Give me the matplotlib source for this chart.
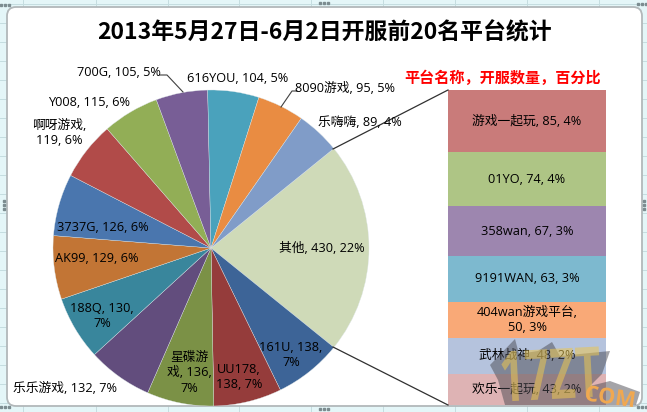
import matplotlib
matplotlib.use('Agg')
import matplotlib.pyplot as plt
from matplotlib.font_manager import FontProperties
from matplotlib.patches import FancyBboxPatch, PathPatch, Polygon, Rectangle
from matplotlib.textpath import TextPath
from matplotlib.transforms import Affine2D

plt.rcParams['font.family'] = ['Open Sans', 'Noto Sans CJK SC', 'DejaVu Sans']

W, H = 647, 412

# pie data, clockwise from the big slice
pie_labels = ['其他, 430, 22%', '161U, 138,\n7%', 'UU178,\n138, 7%', '星碟游\n戏, 136,\n7%',
              '乐乐游戏, 132, 7%', '188Q, 130,\n7%', 'AK99, 129, 6%', '3737G, 126, 6%',
              '啊呀游戏,\n119, 6%', 'Y008, 115, 6%', '700G, 105, 5%', '616YOU, 104, 5%',
              '8090游戏, 95, 5%', '乐嗨嗨, 89, 4%']
pie_values = [430, 138, 138, 136, 132, 130, 129, 126, 119, 115, 105, 104, 95, 89]
pie_colors = ['#CFDAB8', '#3D6497', '#953C3B', '#7B9146', '#624D7D', '#39869C', '#C27535',
              '#4A76AE', '#B14B49', '#92AE56', '#785E96', '#4AA2BC', '#E98C42', '#809CC8']
# label centres in pixels
pie_label_pos = [(322, 248), (291, 355), (239, 377), (189, 373), (65, 388), (102, 316), (97, 259),
                 (103, 227), (59, 133), (89, 102), (119, 72), (238, 78), (345, 88), (360, 122)]

# breakdown of 其他
bar_labels = ['游戏一起玩, 85, 4%', '01YO, 74, 4%', '358wan, 67, 3%', '9191WAN, 63, 3%',
              '404wan游戏平台,\n50, 3%', '武林战神, 48, 2%', '欢乐一起玩, 43, 2%']
bar_values = [85, 74, 67, 63, 50, 48, 43]
bar_colors = ['#C97B7A', '#AEC585', '#9D86AF', '#7DB9CF', '#F9A977', '#B5C3DD', '#DEB3B4']

LABEL_SIZE = 9.2
LINE_SPACING = 1.28


def px_axes(x0, y0, x1, y1, **kw):
    return fig.add_axes([x0 / W, 1 - y1 / H, (x1 - x0) / W, (y1 - y0) / H], **kw)


def stretched_text(axis, s, x0, y0, x1, y1, **kw):
    # text squeezed into a pixel box, the logo letters are tall and narrow
    tp = TextPath((0, 0), s, size=1, prop=FontProperties(family='Open Sans', weight='bold'))
    ext = tp.get_extents()
    tr = (Affine2D().translate(-ext.x0, -ext.y0)
          .scale((x1 - x0) / ext.width, -(y1 - y0) / ext.height)
          .translate(x0, y1).rotate_deg_around((x0 + x1) / 2, (y0 + y1) / 2, kw.pop('rot', 0)))
    axis.add_patch(PathPatch(tr.transform_path(tp), **kw))


fig = plt.figure(figsize=(W / 100, H / 100), dpi=100, facecolor='#E4F6F8')

# sheet behind the chart, in pixel coordinates
bg = px_axes(0, 0, W, H, zorder=0)
bg.set_xlim(0, W)
bg.set_ylim(H, 0)
bg.axis('off')
for x in [23, 96, 168, 239, 311, 383, 455, 527, 599]:
    bg.plot([x, x], [0, H], color='#C5DDE0', lw=0.7)
for y in range(4, H, 19):
    bg.plot([0, W], [y, y], color='#C5DDE0', lw=0.7)
bg.add_patch(FancyBboxPatch((15, 15), 619, 383, boxstyle='round,pad=8,rounding_size=9',
                            fc='white', ec='#B2B8BA', lw=1.3, zorder=3))
# resize handles
for cx, cy in [(5, 5), (324, 3), (642, 4), (4, 205), (644, 205), (5, 407), (324, 409), (642, 407)]:
    horiz = cy < 10 or cy > 400
    for i in (-1, 0, 1):
        dx, dy = (i * 4, 0) if horiz else (0, i * 4)
        bg.add_patch(Rectangle((cx + dx - 1, cy + dy - 1), 2, 2, color='#7C8C90', zorder=4))

# pie
ax = px_axes(53, 90, 369, 406, zorder=1)
ax.pie(pie_values, colors=pie_colors, startangle=39, counterclock=False, radius=1,
       wedgeprops={'edgecolor': '#DDE6E8', 'linewidth': 0.25}, frame=True)
ax.set_xlim(-1, 1)
ax.set_ylim(-1, 1)
ax.axis('off')

# breakdown column
ax2 = px_axes(448, 90, 606, 405, zorder=1)
bottom = 0
for lab, v, c in zip(bar_labels, bar_values, bar_colors):
    ax2.bar(0, v, bottom=bottom, width=1, color=c)
    ax2.text(0, bottom + v / 2, lab, ha='center', va='center', fontsize=LABEL_SIZE,
             linespacing=LINE_SPACING, color='black')
    bottom += v
ax2.set_xlim(-0.5, 0.5)
ax2.set_ylim(sum(bar_values), 0)
ax2.axis('off')

# everything on top, in pixel coordinates again
top = px_axes(0, 0, W, H, zorder=2)
top.set_xlim(0, W)
top.set_ylim(H, 0)
top.axis('off')
top.patch.set_alpha(0)

for lab, (x, y) in zip(pie_labels, pie_label_pos):
    top.text(x, y, lab, ha='center', va='center', fontsize=LABEL_SIZE,
             linespacing=LINE_SPACING, color='black')

top.plot([160, 167, 183], [75, 75, 92], color='#404040', lw=0.8)
top.plot([297, 292, 281], [91, 91, 107], color='#404040', lw=0.8)
top.plot([333, 448], [149, 90], color='#303030', lw=0.9)
top.plot([333, 448], [347, 405], color='#303030', lw=0.9)

top.text(324, 33, '2013年5月27日-6月2日开服前20名平台统计', ha='center', va='center',
         fontsize=16.5, fontweight='bold', color='black',
         family=['Noto Sans CJK SC', 'DejaVu Sans'])
top.text(503, 78, '平台名称，开服数量，百分比', ha='center', va='center',
         fontsize=10.9, fontweight='bold', color='#FF0000',
         family=['Noto Sans CJK SC', 'DejaVu Sans'])

# site watermark, see-through so the labels still show
top.add_patch(Polygon([(490, 365), (515, 339), (519, 354), (538, 351), (552, 342), (560, 356), (610, 351),
                       (602, 374), (590, 386), (610, 381), (640, 392), (636, 405), (505, 405), (498, 380)],
                      fc='#4A4A52', ec='none', alpha=0.5, zorder=5))
stretched_text(top, '17ZT', 502, 349, 600, 399, fc='#EBC651', ec='none', alpha=0.55, zorder=6, rot=-3)
stretched_text(top, 'COM', 586, 388, 634, 404, fc='#F0A850', ec='none', zorder=7, rot=8)

fig.savefig('out.png', dpi=100, facecolor=fig.get_facecolor())
